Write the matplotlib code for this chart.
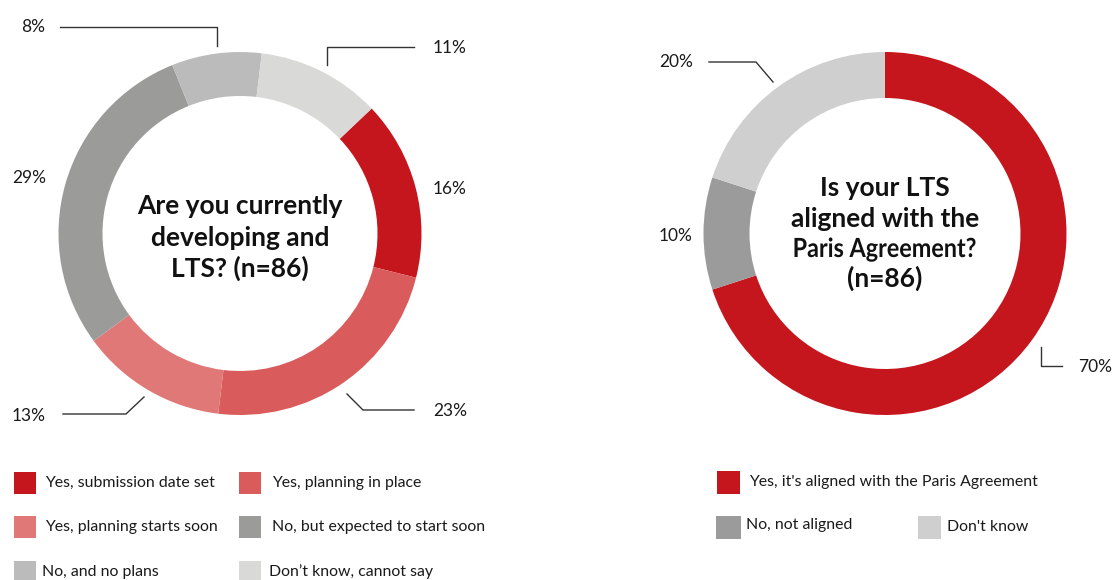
import matplotlib
matplotlib.use("Agg")
import matplotlib.pyplot as plt
from matplotlib.patches import Rectangle, PathPatch
from matplotlib.textpath import TextPath
from matplotlib.font_manager import FontProperties
from matplotlib.transforms import Affine2D

plt.rcParams['font.family'] = ['Lato', 'DejaVu Sans']

# ---- Data ----
left_labels = ["Yes, submission date set", "Yes, planning in place",
               "Yes, planning starts soon", "No, but expected to start soon",
               "No, and no plans", "Don\u2019t know, cannot say"]
left_values = [16, 23, 13, 29, 8, 11]
left_colors = ["#C4161C", "#D95B5B", "#E07878", "#9B9B9A", "#BBBBBB", "#D9D9D8"]
left_title = ["Are you currently", "developing and", "LTS? (n=86)"]

right_labels = ["Yes, it's aligned with the Paris Agreement", "No, not aligned", "Don't know"]
right_values = [70, 10, 20]
right_colors = ["#C4161C", "#9B9B9B", "#CFCFCF"]
right_title = ["Is your LTS", "aligned with the", "Paris Agreement?", "(n=86)"]

W, H = 1115, 580
fig = plt.figure(figsize=(W / 100, H / 100), dpi=100)
ax = fig.add_axes([0, 0, 1, 1])

def Y(y):
    return H - y

TXT = "#1a1a1a"
LINE = "#333333"

# ---- Donuts ----
ax.pie(left_values, colors=left_colors, center=(240, Y(233.5)), radius=181.5,
       startangle=43.5, counterclock=False,
       wedgeprops=dict(width=44, linewidth=0))
ax.pie(right_values, colors=right_colors, center=(885, Y(233.5)), radius=181.5,
       startangle=90, counterclock=False,
       wedgeprops=dict(width=46, linewidth=0))

ax.set_xlim(0, W)
ax.set_ylim(0, H)
ax.set_aspect('auto')
ax.axis('off')

# ---- Center titles ----
TFS = 19
left_baselines = [214, 246, 277]
for line, yb in zip(left_title, left_baselines):
    ax.text(240, Y(yb), line, ha='center', va='baseline', fontsize=TFS,
            fontweight='bold', color='#111111')

right_baselines = [196, 227, 257, 287]
bold = FontProperties(family='Lato', weight='bold')
for line, yb in zip(right_title, right_baselines):
    if line.startswith("Paris"):
        # condensed rendering of this line (tight tracking as in the reference)
        tp = TextPath((0, 0), line, size=TFS * 100 / 72, prop=bold)
        ext = tp.get_extents()
        sx = 181 / ext.width
        tr = Affine2D().translate(-ext.x0 - ext.width / 2, 0).scale(sx, 1).translate(885, Y(yb))
        ax.add_patch(PathPatch(tr.transform_path(tp), fc='#111111', ec='none'))
    else:
        ax.text(885, Y(yb), line, ha='center', va='baseline', fontsize=TFS,
                fontweight='bold', color='#111111')

# ---- Value labels ----
lfs = 12.5
def pct(v):
    return f"{v}%"

# left: 16, 23, 13, 29, 8, 11 (label centers)
left_label_pos = [(450, 189), (450, 411), (29, 416), (29, 178), (33, 27), (450, 48)]
for v, (x, y) in zip(left_values, left_label_pos):
    ax.text(x, Y(y), pct(v), ha='center', va='center', fontsize=lfs, color=TXT)

# leader lines (left)
ax.plot([60, 217, 217], [Y(27), Y(27), Y(46)], color=LINE, lw=1)
ax.plot([414, 327, 327], [Y(47), Y(47), Y(65)], color=LINE, lw=1)
ax.plot([347, 363, 414], [Y(394), Y(410), Y(410)], color=LINE, lw=1)
ax.plot([144, 126, 63], [Y(397), Y(414), Y(414)], color=LINE, lw=1)

# right: 70, 10, 20
right_label_pos = [(1095, 367), (676, 236), (676, 62)]
for v, (x, y) in zip(right_values, right_label_pos):
    ax.text(x, Y(y), pct(v), ha='center', va='center', fontsize=lfs, color=TXT)

ax.plot([709, 756, 773], [Y(62), Y(62), Y(82)], color=LINE, lw=1)
ax.plot([1041, 1041, 1062], [Y(347), Y(366), Y(366)], color=LINE, lw=1)

# ---- Legends ----
lgfs = 11.4
left_leg_pos = [(14, 472, 45), (239, 472, 272), (14, 516, 45), (239, 516, 272),
                (14, 561, 42), (239, 561, 269)]
for lab, col, (sx, sy, tx) in zip(left_labels, left_colors, left_leg_pos):
    ax.add_patch(Rectangle((sx, Y(sy + 22)), 22, 22, color=col, lw=0))
    ax.text(tx, Y(sy + 11), lab, ha='left', va='center', fontsize=lgfs, color=TXT)

right_leg_pos = [(717, 471, 749, 23, 11), (716, 516, 746, 25, 9), (918, 516, 947, 23, 11)]
for lab, col, (sx, sy, tx, s, dy) in zip(right_labels, right_colors, right_leg_pos):
    ax.add_patch(Rectangle((sx, Y(sy + 23)), s, 23, color=col, lw=0))
    ax.text(tx, Y(sy + dy), lab, ha='left', va='center', fontsize=lgfs, color=TXT)

fig.savefig("out.png", dpi=100)
